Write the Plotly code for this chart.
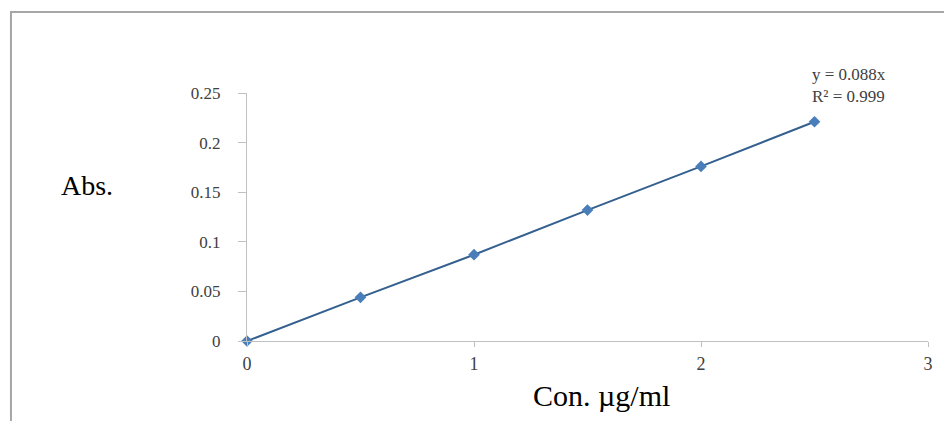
import plotly.graph_objects as go

conc = [0, 0.5, 1, 1.5, 2, 2.5]
absorb = [0, 0.044, 0.087, 0.132, 0.176, 0.221]
x_ticks = [0, 1, 2, 3]
y_ticks = [0, 0.05, 0.1, 0.15, 0.2, 0.25]
y_tick_labels = ["0", "0.05", "0.1", "0.15", "0.2", "0.25"]

FONT = "Liberation Serif, Times New Roman, serif"

fig = go.Figure()
fig.add_trace(go.Scatter(
    x=conc, y=absorb, mode="lines+markers",
    line=dict(color="#34608F", width=2),
    marker=dict(symbol="diamond", size=9, color="#4A7EBB"),
    cliponaxis=False, showlegend=False,
))

fig.update_layout(
    width=952, height=421,
    margin=dict(l=239, r=32, t=85, b=88),
    paper_bgcolor="white", plot_bgcolor="white",
    font=dict(family=FONT, color="#404040", size=17),
    xaxis=dict(range=[0, 3], tickvals=x_ticks, ticktext=[str(v) for v in x_ticks],
               showgrid=False, zeroline=False, showline=True, linecolor="#C0C0C0",
               linewidth=1, ticks="outside", ticklen=5, tickcolor="#C0C0C0",
               ticklabelstandoff=1,
               tickfont=dict(family=FONT, size=18, color="#404040")),
    yaxis=dict(range=[0, 0.25], tickvals=y_ticks, ticktext=y_tick_labels,
               showgrid=False, zeroline=False, showline=True, linecolor="#C0C0C0",
               linewidth=1, ticks="outside", ticklen=8, tickcolor="#C0C0C0",
               ticklabelstandoff=14,
               tickfont=dict(family=FONT, size=17, color="#404040")),
    shapes=[dict(type="rect", xref="paper", yref="paper",
                 x0=-0.3466, x1=1.2, y0=-0.6, y1=1.3266,
                 line=dict(color="#A6A6A6", width=2), layer="below")],
    annotations=[
        dict(text="Abs.", xref="paper", yref="paper", x=-0.235, y=0.629,
             xanchor="center", yanchor="middle",
             showarrow=False, font=dict(family=FONT, size=28, color="#000000")),
        dict(text="Con. µg/ml", xref="paper", yref="paper", x=0.521, y=-0.218,
             xanchor="center", yanchor="middle",
             showarrow=False, font=dict(family=FONT, size=30, color="#000000")),
        dict(text="y = 0.088x<br>R² = 0.999", xref="paper", yref="paper",
             x=0.827, y=1.03, xanchor="left", yanchor="middle", align="left",
             showarrow=False, font=dict(family=FONT, size=17, color="#404040")),
    ],
)

fig.write_html("out.html")
